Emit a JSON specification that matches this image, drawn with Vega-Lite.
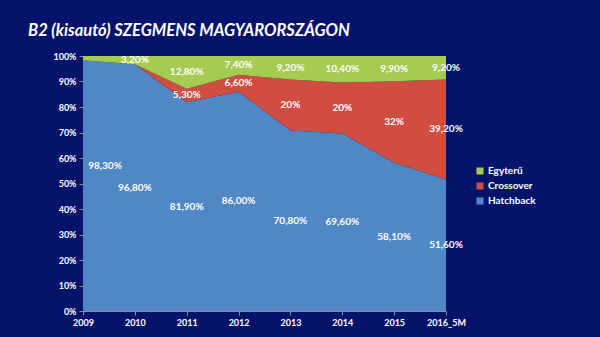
{
  "$schema": "https://vega.github.io/schema/vega-lite/v6.json",
  "width": 363,
  "height": 255,
  "autosize": {"type": "none"},
  "padding": {"left": 83, "top": 56, "right": 154, "bottom": 26},
  "background": "#06136b",
  "title": {
    "text": "B2 (kisautó) SZEGMENS MAGYARORSZÁGON",
    "anchor": "start",
    "frame": "group",
    "dx": -55,
    "offset": 13,
    "font": "Lato",
    "fontSize": 16.5,
    "fontWeight": "bold",
    "fontStyle": "italic",
    "color": "#ffffff"
  },
  "data": {
    "values": [
      {"year": "2009", "segment": "Hatchback", "value": 98.3, "label": "98,30%"},
      {"year": "2009", "segment": "Crossover", "value": 0, "label": ""},
      {"year": "2009", "segment": "Egyterű", "value": 1.7, "label": ""},
      {"year": "2010", "segment": "Hatchback", "value": 96.8, "label": "96,80%"},
      {"year": "2010", "segment": "Crossover", "value": 0, "label": ""},
      {"year": "2010", "segment": "Egyterű", "value": 3.2, "label": "3,20%"},
      {"year": "2011", "segment": "Hatchback", "value": 81.9, "label": "81,90%"},
      {"year": "2011", "segment": "Crossover", "value": 5.3, "label": "5,30%"},
      {"year": "2011", "segment": "Egyterű", "value": 12.8, "label": "12,80%"},
      {"year": "2012", "segment": "Hatchback", "value": 86.0, "label": "86,00%"},
      {"year": "2012", "segment": "Crossover", "value": 6.6, "label": "6,60%"},
      {"year": "2012", "segment": "Egyterű", "value": 7.4, "label": "7,40%"},
      {"year": "2013", "segment": "Hatchback", "value": 70.8, "label": "70,80%"},
      {"year": "2013", "segment": "Crossover", "value": 20, "label": "20%"},
      {"year": "2013", "segment": "Egyterű", "value": 9.2, "label": "9,20%"},
      {"year": "2014", "segment": "Hatchback", "value": 69.6, "label": "69,60%"},
      {"year": "2014", "segment": "Crossover", "value": 20, "label": "20%"},
      {"year": "2014", "segment": "Egyterű", "value": 10.4, "label": "10,40%"},
      {"year": "2015", "segment": "Hatchback", "value": 58.1, "label": "58,10%"},
      {"year": "2015", "segment": "Crossover", "value": 32, "label": "32%"},
      {"year": "2015", "segment": "Egyterű", "value": 9.9, "label": "9,90%"},
      {"year": "2016_5M", "segment": "Hatchback", "value": 51.6, "label": "51,60%"},
      {"year": "2016_5M", "segment": "Crossover", "value": 39.2, "label": "39,20%"},
      {"year": "2016_5M", "segment": "Egyterű", "value": 9.2, "label": "9,20%"}
    ]
  },
  "transform": [
    {"calculate": "indexof(['Hatchback','Crossover','Egyterű'], datum.segment)", "as": "rank"},
    {"stack": "value", "groupby": ["year"], "sort": [{"field": "rank", "order": "ascending"}], "as": ["y0", "y1"]},
    {"calculate": "(datum.y0 + datum.y1) / 2", "as": "mid"}
  ],
  "encoding": {
    "x": {
      "field": "year",
      "type": "ordinal",
      "sort": null,
      "scale": {"type": "point", "padding": 0},
      "axis": {
        "title": null,
        "labelAngle": 0,
        "labelColor": "#ffffff",
        "labelFont": "Lato",
        "labelFontWeight": "bold",
        "labelFontSize": 9,
        "labelOverlap": false,
        "domainColor": "#8a8f9c",
        "tickColor": "#8a8f9c",
        "tickSize": 4,
        "labelPadding": 3
      }
    }
  },
  "layer": [
    {
      "mark": {"type": "area", "opacity": 1, "interpolate": "linear"},
      "encoding": {
        "y": {
          "field": "y1",
          "type": "quantitative",
          "scale": {"domain": [0, 100], "nice": false},
          "axis": {
            "title": null,
            "values": [0, 10, 20, 30, 40, 50, 60, 70, 80, 90, 100],
            "labelExpr": "datum.value + '%'",
            "labelOverlap": false,
            "grid": false,
            "labelColor": "#ffffff",
            "labelFont": "Lato",
            "labelFontWeight": "bold",
            "labelFontSize": 9,
            "domainColor": "#8a8f9c",
            "tickColor": "#8a8f9c",
            "tickSize": 4,
            "labelPadding": 3
          }
        },
        "y2": {"field": "y0"},
        "color": {
          "field": "segment",
          "type": "nominal",
          "scale": {
            "domain": ["Egyterű", "Crossover", "Hatchback"],
            "range": ["#a6cb52", "#d04d42", "#5087c5"]
          },
          "legend": {
            "title": null,
            "orient": "none",
            "legendX": 392,
            "legendY": 110,
            "symbolType": "square",
            "symbolSize": 50,
            "symbolStrokeWidth": 0,
            "symbolOpacity": 1,
            "labelColor": "#ffffff",
            "labelFont": "Lato",
            "labelFontWeight": "bold",
            "labelFontSize": 10,
            "labelOffset": 3,
            "rowPadding": 5
          }
        }
      }
    },
    {
      "transform": [{"filter": "datum.label != ''"}],
      "mark": {
        "type": "text",
        "color": "#ffffff",
        "font": "Lato",
        "fontWeight": "bold",
        "fontSize": 10,
        "baseline": "middle",
        "align": "center",
        "dx": {"expr": "datum.year == '2009' ? 22 : 0"},
        "dy": {"expr": "datum.year == '2009' ? -20 : 0"}
      },
      "encoding": {
        "y": {
          "field": "mid",
          "type": "quantitative",
          "axis": {
            "title": null,
            "values": [0, 10, 20, 30, 40, 50, 60, 70, 80, 90, 100],
            "labelExpr": "datum.value + '%'",
            "labelOverlap": false,
            "grid": false,
            "labelColor": "#ffffff",
            "labelFont": "Lato",
            "labelFontWeight": "bold",
            "labelFontSize": 9,
            "domainColor": "#8a8f9c",
            "tickColor": "#8a8f9c",
            "tickSize": 4,
            "labelPadding": 3
          }
        },
        "text": {"field": "label"}
      }
    }
  ],
  "config": {"view": {"stroke": null}}
}
